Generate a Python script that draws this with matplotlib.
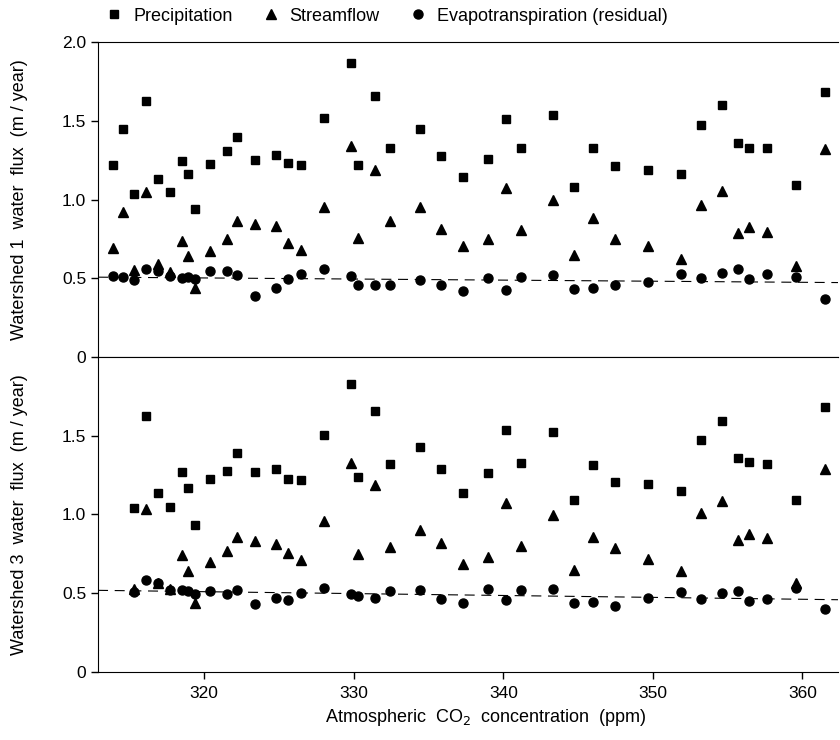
import numpy as np
import matplotlib
matplotlib.use("Agg")
import matplotlib.pyplot as plt

plt.rcParams['font.family'] = ['Liberation Sans', 'DejaVu Sans']
plt.rcParams['font.size'] = 12

# CO2 (ppm) for each year
co2 = [313.9, 314.6, 315.3, 316.1, 316.9, 317.7, 318.5, 318.9, 319.4, 320.4,
       321.5, 322.2, 323.4, 324.8, 325.6, 326.5, 328.0, 329.8, 330.3, 331.4,
       332.4, 334.4, 335.8, 337.3, 339.0, 340.2, 341.2, 343.3, 344.7, 346.0,
       347.5, 349.7, 351.9, 353.2, 354.6, 355.7, 356.4, 357.6, 359.6, 361.5]

# watershed 1 (m / year)
ws1_precip = [1.22, 1.45, 1.035, 1.625, 1.13, 1.05, 1.245, 1.16, 0.94, 1.225,
              1.31, 1.40, 1.25, 1.28, 1.23, 1.22, 1.52, 1.865, 1.22, 1.66,
              1.33, 1.45, 1.275, 1.14, 1.26, 1.51, 1.325, 1.535, 1.08, 1.325,
              1.21, 1.185, 1.16, 1.475, 1.60, 1.36, 1.33, 1.325, 1.09, 1.685]
ws1_flow = [0.69, 0.92, 0.55, 1.05, 0.59, 0.54, 0.735, 0.64, 0.44, 0.675,
            0.75, 0.865, 0.845, 0.83, 0.725, 0.68, 0.95, 1.34, 0.755, 1.19,
            0.865, 0.95, 0.81, 0.705, 0.75, 1.07, 0.805, 1.0, 0.65, 0.88,
            0.75, 0.705, 0.625, 0.965, 1.055, 0.79, 0.825, 0.795, 0.58, 1.32]
ws1_et = [0.515, 0.51, 0.49, 0.56, 0.545, 0.515, 0.50, 0.51, 0.497, 0.545,
          0.545, 0.52, 0.39, 0.437, 0.493, 0.53, 0.56, 0.515, 0.455, 0.46,
          0.457, 0.49, 0.455, 0.42, 0.50, 0.427, 0.505, 0.52, 0.43, 0.437,
          0.455, 0.475, 0.525, 0.50, 0.533, 0.56, 0.493, 0.525, 0.51, 0.367]

# watershed 3 starts two years later
co2_ws3 = co2[2:]
ws3_precip = [1.04, 1.627, 1.135, 1.05, 1.27, 1.165, 0.935, 1.223, 1.275, 1.393,
              1.27, 1.29, 1.223, 1.22, 1.503, 1.829, 1.24, 1.659, 1.323, 1.431,
              1.289, 1.139, 1.261, 1.534, 1.329, 1.526, 1.09, 1.312, 1.208, 1.194,
              1.151, 1.471, 1.594, 1.357, 1.335, 1.321, 1.092, 1.683]
ws3_flow = [0.525, 1.037, 0.565, 0.525, 0.745, 0.639, 0.436, 0.698, 0.768, 0.859,
            0.832, 0.815, 0.758, 0.709, 0.959, 1.329, 0.749, 1.187, 0.796, 0.902,
            0.817, 0.686, 0.728, 1.071, 0.80, 0.997, 0.648, 0.859, 0.789, 0.715,
            0.641, 1.007, 1.088, 0.838, 0.876, 0.853, 0.563, 1.287]
ws3_et = [0.51, 0.584, 0.567, 0.519, 0.521, 0.516, 0.493, 0.512, 0.497, 0.523,
          0.432, 0.47, 0.457, 0.502, 0.535, 0.497, 0.483, 0.468, 0.516, 0.523,
          0.466, 0.44, 0.525, 0.457, 0.523, 0.525, 0.436, 0.447, 0.417, 0.47,
          0.506, 0.461, 0.504, 0.516, 0.453, 0.466, 0.531, 0.398]

xlim = (312.9, 362.4)

fig = plt.figure(figsize=(8.4, 7.4), dpi=100)
ax1 = fig.add_axes([0.1167, 0.5176, 0.8813, 0.4256])
ax2 = fig.add_axes([0.1167, 0.0919, 0.8813, 0.4257])


def panel(ax, x, p, q, et, ylabel, yticks, ylabels):
    ax.plot(x, p, 's', color='black', ms=5.5, label='Precipitation')
    ax.plot(x, q, '^', color='black', ms=6.5, label='Streamflow')
    ax.plot(x, et, 'o', color='black', ms=6.5, label='Evapotranspiration (residual)')
    # linear trend of the residual
    k, b = np.polyfit(x, et, 1)
    xx = np.array(xlim)
    ax.plot(xx, k * xx + b, color='black', lw=0.8, dashes=(9, 6))
    ax.set_xlim(*xlim)
    ax.set_ylim(0, 2.0)
    ax.set_yticks(yticks)
    ax.set_yticklabels(ylabels)
    ax.set_ylabel(ylabel, fontsize=13)
    ax.yaxis.set_label_coords(-0.094, 0.5)
    ax.spines['right'].set_visible(False)
    ax.tick_params(direction='out', length=5, width=1, labelsize=12.5)


panel(ax1, co2, ws1_precip, ws1_flow, ws1_et,
      'Watershed 1  water  flux  (m / year)',
      [0, 0.5, 1.0, 1.5, 2.0], ['0', '0.5', '1.0', '1.5', '2.0'])
panel(ax2, co2_ws3, ws3_precip, ws3_flow, ws3_et,
      'Watershed 3  water  flux  (m / year)',
      [0, 0.5, 1.0, 1.5], ['0', '0.5', '1.0', '1.5'])

ax1.set_xticks([])
ax2.set_xticks([320, 330, 340, 350, 360])
ax2.tick_params(axis='x', pad=5)

fig.text(0.578, 0.031, 'Atmospheric  CO$_2$  concentration  (ppm)',
         ha='center', va='center', fontsize=13)

h, l = ax1.get_legend_handles_labels()
fig.legend(h[:3], l[:3], loc='center', bbox_to_anchor=(0.46, 0.978), ncol=3,
           frameon=False, fontsize=13, handletextpad=0.55, columnspacing=1.6,
           handlelength=1.0)

fig.savefig('out.png', dpi=100)
